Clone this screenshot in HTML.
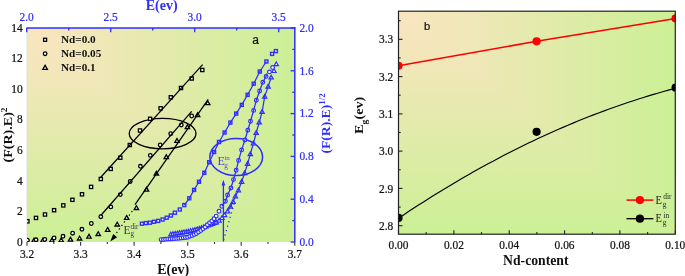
<!DOCTYPE html>
<html><head><meta charset="utf-8"><style>html,body{margin:0;padding:0;background:#fff;width:685px;height:276px;overflow:hidden}</style></head><body>
<svg width="685" height="276" viewBox="0 0 685 276" style="display:block;will-change:transform">
<defs>
<linearGradient id="gLh" gradientUnits="userSpaceOnUse" x1="27" y1="0" x2="294.8" y2="0"><stop offset="0" stop-color="#f9e5c0"/><stop offset="0.25" stop-color="#f0e7b8"/><stop offset="1" stop-color="#cbf095"/></linearGradient>
<linearGradient id="gLv" gradientUnits="userSpaceOnUse" x1="0" y1="28" x2="0" y2="242"><stop offset="0" stop-color="#f9e5c0"/><stop offset="0.25" stop-color="#f0e7b8"/><stop offset="1" stop-color="#cbf095"/></linearGradient>
<linearGradient id="gRh" gradientUnits="userSpaceOnUse" x1="398.5" y1="0" x2="675.3" y2="0"><stop offset="0" stop-color="#f9e5c0"/><stop offset="0.25" stop-color="#f0e7b8"/><stop offset="1" stop-color="#cbf095"/></linearGradient>
<linearGradient id="gRv" gradientUnits="userSpaceOnUse" x1="0" y1="11.2" x2="0" y2="234.2"><stop offset="0" stop-color="#f9e5c0"/><stop offset="0.25" stop-color="#f0e7b8"/><stop offset="1" stop-color="#cbf095"/></linearGradient>
<clipPath id="cL"><rect x="27" y="28" width="267.8" height="214"/></clipPath>
<clipPath id="cR"><rect x="398.5" y="11.2" width="276.8" height="223.0"/></clipPath>
</defs>
<rect x="0" y="0" width="685" height="276" fill="#fff"/>
<rect x="27" y="28" width="267.8" height="214" fill="url(#gLv)"/><path d="M27 28L294.8 28L294.8 242Z" fill="url(#gLh)"/>
<line x1="26.8" y1="28" x2="26.8" y2="242" stroke="#d0d0d0" stroke-width="0.5"/>
<g clip-path="url(#cL)">
<line x1="114" y1="236.5" x2="133" y2="210" stroke="#000" stroke-width="1.2" stroke-dasharray="1.3 3"/>
<path d="M110.3 241.5L113.2 233.9L117.1 237.2Z" fill="#000"/>
<ellipse cx="162.6" cy="133.6" rx="33.4" ry="15.2" fill="none" stroke="#000" stroke-width="1.3"/>
<rect x="25.80" y="219.70" width="3.2" height="3.2" fill="#fff" stroke="#000" stroke-width="1.3"/>
<rect x="34.40" y="216.30" width="3.2" height="3.2" fill="#fff" stroke="#000" stroke-width="1.3"/>
<rect x="43.40" y="212.90" width="3.2" height="3.2" fill="#fff" stroke="#000" stroke-width="1.3"/>
<rect x="52.50" y="208.60" width="3.2" height="3.2" fill="#fff" stroke="#000" stroke-width="1.3"/>
<rect x="61.70" y="203.80" width="3.2" height="3.2" fill="#fff" stroke="#000" stroke-width="1.3"/>
<rect x="70.80" y="198.20" width="3.2" height="3.2" fill="#fff" stroke="#000" stroke-width="1.3"/>
<rect x="80.40" y="192.70" width="3.2" height="3.2" fill="#fff" stroke="#000" stroke-width="1.3"/>
<rect x="89.50" y="185.30" width="3.2" height="3.2" fill="#fff" stroke="#000" stroke-width="1.3"/>
<rect x="99.20" y="177.40" width="3.2" height="3.2" fill="#fff" stroke="#000" stroke-width="1.3"/>
<rect x="109.10" y="167.30" width="3.2" height="3.2" fill="#fff" stroke="#000" stroke-width="1.3"/>
<rect x="118.70" y="156.10" width="3.2" height="3.2" fill="#fff" stroke="#000" stroke-width="1.3"/>
<rect x="128.20" y="143.40" width="3.2" height="3.2" fill="#fff" stroke="#000" stroke-width="1.3"/>
<rect x="138.40" y="128.90" width="3.2" height="3.2" fill="#fff" stroke="#000" stroke-width="1.3"/>
<rect x="148.50" y="117.20" width="3.2" height="3.2" fill="#fff" stroke="#000" stroke-width="1.3"/>
<rect x="159.00" y="106.70" width="3.2" height="3.2" fill="#fff" stroke="#000" stroke-width="1.3"/>
<rect x="169.20" y="95.70" width="3.2" height="3.2" fill="#fff" stroke="#000" stroke-width="1.3"/>
<rect x="179.40" y="86.40" width="3.2" height="3.2" fill="#fff" stroke="#000" stroke-width="1.3"/>
<rect x="190.10" y="76.90" width="3.2" height="3.2" fill="#fff" stroke="#000" stroke-width="1.3"/>
<rect x="200.70" y="68.40" width="3.2" height="3.2" fill="#fff" stroke="#000" stroke-width="1.3"/>
<path d="M25.20 238.51L27.40 242.32L23.00 242.32Z" fill="#fff" stroke="#000" stroke-width="1.3"/>
<path d="M34.00 238.31L36.20 242.12L31.80 242.12Z" fill="#fff" stroke="#000" stroke-width="1.3"/>
<path d="M42.90 238.31L45.10 242.12L40.70 242.12Z" fill="#fff" stroke="#000" stroke-width="1.3"/>
<path d="M51.90 238.21L54.10 242.02L49.70 242.02Z" fill="#fff" stroke="#000" stroke-width="1.3"/>
<path d="M61.20 238.01L63.40 241.82L59.00 241.82Z" fill="#fff" stroke="#000" stroke-width="1.3"/>
<path d="M70.50 237.31L72.70 241.12L68.30 241.12Z" fill="#fff" stroke="#000" stroke-width="1.3"/>
<path d="M79.60 236.21L81.80 240.02L77.40 240.02Z" fill="#fff" stroke="#000" stroke-width="1.3"/>
<path d="M89.00 234.41L91.20 238.22L86.80 238.22Z" fill="#fff" stroke="#000" stroke-width="1.3"/>
<path d="M98.20 231.71L100.40 235.52L96.00 235.52Z" fill="#fff" stroke="#000" stroke-width="1.3"/>
<path d="M107.70 227.51L109.90 231.32L105.50 231.32Z" fill="#fff" stroke="#000" stroke-width="1.3"/>
<path d="M117.20 222.21L119.40 226.02L115.00 226.02Z" fill="#fff" stroke="#000" stroke-width="1.3"/>
<path d="M126.70 215.51L128.90 219.32L124.50 219.32Z" fill="#fff" stroke="#000" stroke-width="1.3"/>
<path d="M136.40 205.71L138.60 209.52L134.20 209.52Z" fill="#fff" stroke="#000" stroke-width="1.3"/>
<path d="M146.50 187.41L148.70 191.22L144.30 191.22Z" fill="#fff" stroke="#000" stroke-width="1.3"/>
<path d="M156.40 171.41L158.60 175.22L154.20 175.22Z" fill="#fff" stroke="#000" stroke-width="1.3"/>
<path d="M166.30 154.81L168.50 158.62L164.10 158.62Z" fill="#fff" stroke="#000" stroke-width="1.3"/>
<path d="M177.00 138.61L179.20 142.42L174.80 142.42Z" fill="#fff" stroke="#000" stroke-width="1.3"/>
<path d="M187.40 124.91L189.60 128.72L185.20 128.72Z" fill="#fff" stroke="#000" stroke-width="1.3"/>
<path d="M197.60 112.91L199.80 116.72L195.40 116.72Z" fill="#fff" stroke="#000" stroke-width="1.3"/>
<path d="M207.70 100.91L209.90 104.72L205.50 104.72Z" fill="#fff" stroke="#000" stroke-width="1.3"/>
<circle cx="27.40" cy="240.20" r="1.8" fill="#fff" stroke="#000" stroke-width="1.3"/>
<circle cx="36.00" cy="239.80" r="1.8" fill="#fff" stroke="#000" stroke-width="1.3"/>
<circle cx="44.80" cy="239.50" r="1.8" fill="#fff" stroke="#000" stroke-width="1.3"/>
<circle cx="54.10" cy="238.00" r="1.8" fill="#fff" stroke="#000" stroke-width="1.3"/>
<circle cx="63.00" cy="236.30" r="1.8" fill="#fff" stroke="#000" stroke-width="1.3"/>
<circle cx="72.60" cy="233.20" r="1.8" fill="#fff" stroke="#000" stroke-width="1.3"/>
<circle cx="81.90" cy="229.30" r="1.8" fill="#fff" stroke="#000" stroke-width="1.3"/>
<circle cx="91.30" cy="223.50" r="1.8" fill="#fff" stroke="#000" stroke-width="1.3"/>
<circle cx="100.80" cy="216.70" r="1.8" fill="#fff" stroke="#000" stroke-width="1.3"/>
<circle cx="110.80" cy="206.90" r="1.8" fill="#fff" stroke="#000" stroke-width="1.3"/>
<circle cx="120.30" cy="194.60" r="1.8" fill="#fff" stroke="#000" stroke-width="1.3"/>
<circle cx="130.20" cy="181.50" r="1.8" fill="#fff" stroke="#000" stroke-width="1.3"/>
<circle cx="140.40" cy="166.30" r="1.8" fill="#fff" stroke="#000" stroke-width="1.3"/>
<circle cx="150.30" cy="155.40" r="1.8" fill="#fff" stroke="#000" stroke-width="1.3"/>
<circle cx="160.20" cy="145.00" r="1.8" fill="#fff" stroke="#000" stroke-width="1.3"/>
<circle cx="170.70" cy="133.70" r="1.8" fill="#fff" stroke="#000" stroke-width="1.3"/>
<circle cx="181.30" cy="125.00" r="1.8" fill="#fff" stroke="#000" stroke-width="1.3"/>
<circle cx="191.70" cy="116.00" r="1.8" fill="#fff" stroke="#000" stroke-width="1.3"/>
<g stroke="#000" stroke-width="1.25" fill="none">
<line x1="100.1" y1="178" x2="202.6" y2="64.6"/>
<line x1="100.8" y1="215.5" x2="191.7" y2="111.3"/>
<line x1="135.0" y1="204.6" x2="208.2" y2="99.4"/>
</g>
<line x1="223.6" y1="240" x2="234.6" y2="202" stroke="#2e2eff" stroke-width="1.3" stroke-dasharray="1.2 3.4"/>
<line x1="223.4" y1="184" x2="223.4" y2="241.5" stroke="#2e2eff" stroke-width="1.3"/>
<path d="M223.4 179.8L221.5 185.6L225.3 185.6Z" fill="#2e2eff"/>
<ellipse cx="236.2" cy="157" rx="26.4" ry="18.4" fill="none" stroke="#2e2eff" stroke-width="1.5"/>
<rect x="140.40" y="222.20" width="3.0" height="3.0" fill="#fff" stroke="#2e2eff" stroke-width="1.4"/>
<rect x="144.40" y="221.60" width="3.0" height="3.0" fill="#fff" stroke="#2e2eff" stroke-width="1.4"/>
<rect x="148.40" y="221.20" width="3.0" height="3.0" fill="#fff" stroke="#2e2eff" stroke-width="1.4"/>
<rect x="152.50" y="220.30" width="3.0" height="3.0" fill="#fff" stroke="#2e2eff" stroke-width="1.4"/>
<rect x="156.70" y="219.40" width="3.0" height="3.0" fill="#fff" stroke="#2e2eff" stroke-width="1.4"/>
<rect x="161.10" y="218.00" width="3.0" height="3.0" fill="#fff" stroke="#2e2eff" stroke-width="1.4"/>
<rect x="165.20" y="216.20" width="3.0" height="3.0" fill="#fff" stroke="#2e2eff" stroke-width="1.4"/>
<rect x="169.40" y="214.00" width="3.0" height="3.0" fill="#fff" stroke="#2e2eff" stroke-width="1.4"/>
<rect x="173.40" y="211.20" width="3.0" height="3.0" fill="#fff" stroke="#2e2eff" stroke-width="1.4"/>
<rect x="178.30" y="208.00" width="3.0" height="3.0" fill="#fff" stroke="#2e2eff" stroke-width="1.4"/>
<rect x="182.80" y="203.60" width="3.0" height="3.0" fill="#fff" stroke="#2e2eff" stroke-width="1.4"/>
<rect x="187.80" y="196.80" width="3.0" height="3.0" fill="#fff" stroke="#2e2eff" stroke-width="1.4"/>
<rect x="192.60" y="188.40" width="3.0" height="3.0" fill="#fff" stroke="#2e2eff" stroke-width="1.4"/>
<rect x="197.50" y="180.30" width="3.0" height="3.0" fill="#fff" stroke="#2e2eff" stroke-width="1.4"/>
<rect x="202.80" y="171.30" width="3.0" height="3.0" fill="#fff" stroke="#2e2eff" stroke-width="1.4"/>
<rect x="207.70" y="160.70" width="3.0" height="3.0" fill="#fff" stroke="#2e2eff" stroke-width="1.4"/>
<rect x="212.60" y="150.50" width="3.0" height="3.0" fill="#fff" stroke="#2e2eff" stroke-width="1.4"/>
<rect x="217.50" y="140.50" width="3.0" height="3.0" fill="#fff" stroke="#2e2eff" stroke-width="1.4"/>
<rect x="223.10" y="131.00" width="3.0" height="3.0" fill="#fff" stroke="#2e2eff" stroke-width="1.4"/>
<rect x="228.90" y="121.10" width="3.0" height="3.0" fill="#fff" stroke="#2e2eff" stroke-width="1.4"/>
<rect x="234.70" y="112.10" width="3.0" height="3.0" fill="#fff" stroke="#2e2eff" stroke-width="1.4"/>
<rect x="240.30" y="103.40" width="3.0" height="3.0" fill="#fff" stroke="#2e2eff" stroke-width="1.4"/>
<rect x="246.10" y="93.30" width="3.0" height="3.0" fill="#fff" stroke="#2e2eff" stroke-width="1.4"/>
<rect x="252.20" y="82.20" width="3.0" height="3.0" fill="#fff" stroke="#2e2eff" stroke-width="1.4"/>
<rect x="258.30" y="70.00" width="3.0" height="3.0" fill="#fff" stroke="#2e2eff" stroke-width="1.4"/>
<rect x="264.90" y="60.00" width="3.0" height="3.0" fill="#fff" stroke="#2e2eff" stroke-width="1.4"/>
<rect x="270.60" y="52.40" width="3.0" height="3.0" fill="#fff" stroke="#2e2eff" stroke-width="1.4"/>
<rect x="274.40" y="49.60" width="3.0" height="3.0" fill="#fff" stroke="#2e2eff" stroke-width="1.4"/>
<path d="M170.80 232.17L172.95 235.89L168.65 235.89Z" fill="#fff" stroke="#2e2eff" stroke-width="1.2"/>
<path d="M173.00 231.81L175.15 235.53L170.85 235.53Z" fill="#fff" stroke="#2e2eff" stroke-width="1.2"/>
<path d="M175.20 231.45L177.35 235.17L173.05 235.17Z" fill="#fff" stroke="#2e2eff" stroke-width="1.2"/>
<path d="M177.40 231.09L179.55 234.82L175.25 234.82Z" fill="#fff" stroke="#2e2eff" stroke-width="1.2"/>
<path d="M179.60 230.73L181.75 234.46L177.45 234.46Z" fill="#fff" stroke="#2e2eff" stroke-width="1.2"/>
<path d="M181.80 230.38L183.95 234.10L179.65 234.10Z" fill="#fff" stroke="#2e2eff" stroke-width="1.2"/>
<path d="M184.00 230.02L186.15 233.74L181.85 233.74Z" fill="#fff" stroke="#2e2eff" stroke-width="1.2"/>
<path d="M186.20 229.66L188.35 233.38L184.05 233.38Z" fill="#fff" stroke="#2e2eff" stroke-width="1.2"/>
<path d="M188.40 229.27L190.55 232.99L186.25 232.99Z" fill="#fff" stroke="#2e2eff" stroke-width="1.2"/>
<path d="M190.60 228.72L192.75 232.44L188.45 232.44Z" fill="#fff" stroke="#2e2eff" stroke-width="1.2"/>
<path d="M192.80 228.17L194.95 231.89L190.65 231.89Z" fill="#fff" stroke="#2e2eff" stroke-width="1.2"/>
<path d="M195.00 227.62L197.15 231.34L192.85 231.34Z" fill="#fff" stroke="#2e2eff" stroke-width="1.2"/>
<path d="M197.20 227.07L199.35 230.79L195.05 230.79Z" fill="#fff" stroke="#2e2eff" stroke-width="1.2"/>
<path d="M199.40 226.52L201.55 230.24L197.25 230.24Z" fill="#fff" stroke="#2e2eff" stroke-width="1.2"/>
<path d="M201.60 225.76L203.75 229.48L199.45 229.48Z" fill="#fff" stroke="#2e2eff" stroke-width="1.2"/>
<path d="M203.80 224.92L205.95 228.65L201.65 228.65Z" fill="#fff" stroke="#2e2eff" stroke-width="1.2"/>
<path d="M206.00 224.09L208.15 227.81L203.85 227.81Z" fill="#fff" stroke="#2e2eff" stroke-width="1.2"/>
<path d="M208.20 223.25L210.35 226.97L206.05 226.97Z" fill="#fff" stroke="#2e2eff" stroke-width="1.2"/>
<path d="M210.40 222.41L212.55 226.13L208.25 226.13Z" fill="#fff" stroke="#2e2eff" stroke-width="1.2"/>
<path d="M212.60 221.56L214.75 225.28L210.45 225.28Z" fill="#fff" stroke="#2e2eff" stroke-width="1.2"/>
<path d="M214.80 220.71L216.95 224.43L212.65 224.43Z" fill="#fff" stroke="#2e2eff" stroke-width="1.2"/>
<path d="M216.20 220.17L218.35 223.89L214.05 223.89Z" fill="#fff" stroke="#2e2eff" stroke-width="1.2"/>
<path d="M219.10 218.47L221.25 222.19L216.95 222.19Z" fill="#fff" stroke="#2e2eff" stroke-width="1.2"/>
<path d="M222.00 215.77L224.15 219.49L219.85 219.49Z" fill="#fff" stroke="#2e2eff" stroke-width="1.2"/>
<path d="M224.60 212.87L226.75 216.59L222.45 216.59Z" fill="#fff" stroke="#2e2eff" stroke-width="1.2"/>
<path d="M227.60 209.07L229.75 212.79L225.45 212.79Z" fill="#fff" stroke="#2e2eff" stroke-width="1.2"/>
<path d="M230.40 204.47L232.55 208.19L228.25 208.19Z" fill="#fff" stroke="#2e2eff" stroke-width="1.2"/>
<path d="M233.10 199.57L235.25 203.29L230.95 203.29Z" fill="#fff" stroke="#2e2eff" stroke-width="1.2"/>
<path d="M235.40 194.07L237.55 197.79L233.25 197.79Z" fill="#fff" stroke="#2e2eff" stroke-width="1.2"/>
<path d="M238.40 188.07L240.55 191.79L236.25 191.79Z" fill="#fff" stroke="#2e2eff" stroke-width="1.2"/>
<path d="M241.60 179.57L243.75 183.29L239.45 183.29Z" fill="#fff" stroke="#2e2eff" stroke-width="1.2"/>
<path d="M244.60 170.87L246.75 174.59L242.45 174.59Z" fill="#fff" stroke="#2e2eff" stroke-width="1.2"/>
<path d="M247.60 161.57L249.75 165.29L245.45 165.29Z" fill="#fff" stroke="#2e2eff" stroke-width="1.2"/>
<path d="M250.30 151.87L252.45 155.59L248.15 155.59Z" fill="#fff" stroke="#2e2eff" stroke-width="1.2"/>
<path d="M253.40 141.27L255.55 144.99L251.25 144.99Z" fill="#fff" stroke="#2e2eff" stroke-width="1.2"/>
<path d="M256.20 130.67L258.35 134.39L254.05 134.39Z" fill="#fff" stroke="#2e2eff" stroke-width="1.2"/>
<path d="M259.20 120.07L261.35 123.79L257.05 123.79Z" fill="#fff" stroke="#2e2eff" stroke-width="1.2"/>
<path d="M262.10 109.57L264.25 113.29L259.95 113.29Z" fill="#fff" stroke="#2e2eff" stroke-width="1.2"/>
<path d="M264.70 94.37L266.85 98.09L262.55 98.09Z" fill="#fff" stroke="#2e2eff" stroke-width="1.2"/>
<path d="M268.10 84.37L270.25 88.09L265.95 88.09Z" fill="#fff" stroke="#2e2eff" stroke-width="1.2"/>
<path d="M271.20 75.27L273.35 78.99L269.05 78.99Z" fill="#fff" stroke="#2e2eff" stroke-width="1.2"/>
<path d="M274.00 68.77L276.15 72.49L271.85 72.49Z" fill="#fff" stroke="#2e2eff" stroke-width="1.2"/>
<path d="M276.30 61.97L278.45 65.69L274.15 65.69Z" fill="#fff" stroke="#2e2eff" stroke-width="1.2"/>
<circle cx="161.20" cy="239.60" r="1.85" fill="#fff" stroke="#2e2eff" stroke-width="1.2"/>
<circle cx="163.40" cy="239.44" r="1.85" fill="#fff" stroke="#2e2eff" stroke-width="1.2"/>
<circle cx="165.60" cy="239.28" r="1.85" fill="#fff" stroke="#2e2eff" stroke-width="1.2"/>
<circle cx="167.80" cy="239.12" r="1.85" fill="#fff" stroke="#2e2eff" stroke-width="1.2"/>
<circle cx="170.00" cy="238.96" r="1.85" fill="#fff" stroke="#2e2eff" stroke-width="1.2"/>
<circle cx="172.20" cy="238.80" r="1.85" fill="#fff" stroke="#2e2eff" stroke-width="1.2"/>
<circle cx="174.40" cy="238.64" r="1.85" fill="#fff" stroke="#2e2eff" stroke-width="1.2"/>
<circle cx="176.60" cy="238.42" r="1.85" fill="#fff" stroke="#2e2eff" stroke-width="1.2"/>
<circle cx="178.80" cy="238.18" r="1.85" fill="#fff" stroke="#2e2eff" stroke-width="1.2"/>
<circle cx="181.00" cy="237.93" r="1.85" fill="#fff" stroke="#2e2eff" stroke-width="1.2"/>
<circle cx="183.20" cy="237.69" r="1.85" fill="#fff" stroke="#2e2eff" stroke-width="1.2"/>
<circle cx="185.40" cy="237.44" r="1.85" fill="#fff" stroke="#2e2eff" stroke-width="1.2"/>
<circle cx="187.60" cy="237.20" r="1.85" fill="#fff" stroke="#2e2eff" stroke-width="1.2"/>
<circle cx="189.80" cy="236.34" r="1.85" fill="#fff" stroke="#2e2eff" stroke-width="1.2"/>
<circle cx="192.00" cy="235.48" r="1.85" fill="#fff" stroke="#2e2eff" stroke-width="1.2"/>
<circle cx="194.20" cy="234.61" r="1.85" fill="#fff" stroke="#2e2eff" stroke-width="1.2"/>
<circle cx="196.40" cy="233.43" r="1.85" fill="#fff" stroke="#2e2eff" stroke-width="1.2"/>
<circle cx="198.60" cy="232.07" r="1.85" fill="#fff" stroke="#2e2eff" stroke-width="1.2"/>
<circle cx="200.80" cy="230.56" r="1.85" fill="#fff" stroke="#2e2eff" stroke-width="1.2"/>
<circle cx="203.00" cy="228.80" r="1.85" fill="#fff" stroke="#2e2eff" stroke-width="1.2"/>
<circle cx="205.20" cy="226.99" r="1.85" fill="#fff" stroke="#2e2eff" stroke-width="1.2"/>
<circle cx="207.40" cy="224.73" r="1.85" fill="#fff" stroke="#2e2eff" stroke-width="1.2"/>
<circle cx="209.60" cy="222.86" r="1.85" fill="#fff" stroke="#2e2eff" stroke-width="1.2"/>
<circle cx="211.80" cy="221.08" r="1.85" fill="#fff" stroke="#2e2eff" stroke-width="1.2"/>
<circle cx="214.00" cy="218.80" r="1.85" fill="#fff" stroke="#2e2eff" stroke-width="1.2"/>
<circle cx="216.20" cy="216.09" r="1.85" fill="#fff" stroke="#2e2eff" stroke-width="1.2"/>
<circle cx="219.00" cy="211.30" r="1.85" fill="#fff" stroke="#2e2eff" stroke-width="1.2"/>
<circle cx="221.80" cy="206.30" r="1.85" fill="#fff" stroke="#2e2eff" stroke-width="1.2"/>
<circle cx="225.40" cy="201.30" r="1.85" fill="#fff" stroke="#2e2eff" stroke-width="1.2"/>
<circle cx="227.60" cy="195.00" r="1.85" fill="#fff" stroke="#2e2eff" stroke-width="1.2"/>
<circle cx="230.90" cy="188.00" r="1.85" fill="#fff" stroke="#2e2eff" stroke-width="1.2"/>
<circle cx="233.50" cy="179.60" r="1.85" fill="#fff" stroke="#2e2eff" stroke-width="1.2"/>
<circle cx="236.20" cy="170.20" r="1.85" fill="#fff" stroke="#2e2eff" stroke-width="1.2"/>
<circle cx="238.60" cy="160.40" r="1.85" fill="#fff" stroke="#2e2eff" stroke-width="1.2"/>
<circle cx="241.60" cy="149.90" r="1.85" fill="#fff" stroke="#2e2eff" stroke-width="1.2"/>
<circle cx="244.90" cy="140.00" r="1.85" fill="#fff" stroke="#2e2eff" stroke-width="1.2"/>
<circle cx="247.80" cy="130.30" r="1.85" fill="#fff" stroke="#2e2eff" stroke-width="1.2"/>
<circle cx="250.50" cy="121.20" r="1.85" fill="#fff" stroke="#2e2eff" stroke-width="1.2"/>
<circle cx="253.60" cy="110.40" r="1.85" fill="#fff" stroke="#2e2eff" stroke-width="1.2"/>
<circle cx="256.30" cy="100.30" r="1.85" fill="#fff" stroke="#2e2eff" stroke-width="1.2"/>
<circle cx="259.60" cy="91.00" r="1.85" fill="#fff" stroke="#2e2eff" stroke-width="1.2"/>
<circle cx="262.80" cy="82.20" r="1.85" fill="#fff" stroke="#2e2eff" stroke-width="1.2"/>
<circle cx="266.10" cy="76.40" r="1.85" fill="#fff" stroke="#2e2eff" stroke-width="1.2"/>
<circle cx="269.40" cy="71.90" r="1.85" fill="#fff" stroke="#2e2eff" stroke-width="1.2"/>
<circle cx="272.60" cy="67.50" r="1.85" fill="#fff" stroke="#2e2eff" stroke-width="1.2"/>
<polyline points="184.3,205.1 189.3,198.3 194.1,189.9 199.0,181.8 204.3,172.8 209.2,162.2 214.1,152.0 219.0,142.0 224.6,132.5 230.4,122.6 236.2,113.6 241.8,104.9 247.6,94.8 253.7,83.7 259.8,71.5 266.4,61.5" fill="none" stroke="#2e2eff" stroke-width="1.25" stroke-linejoin="round"/>
<polyline points="221.8,206.3 225.4,201.3 227.6,195.0 230.9,188.0 233.5,179.6 236.2,170.2 238.6,160.4 241.6,149.9 244.9,140.0 247.8,130.3 250.5,121.2 253.6,110.4 256.3,100.3 259.6,91.0 262.8,82.2 266.1,76.4 266.7,73.5" fill="none" stroke="#2e2eff" stroke-width="1.25" stroke-linejoin="round"/>
<polyline points="227.6,211.3 230.4,206.7 233.1,201.8 235.4,196.3 238.4,190.3 241.6,181.8 244.6,173.1 247.6,163.8 250.3,154.1 253.4,143.5 256.2,132.9 259.2,122.3 262.1,111.8 264.7,96.6 268.1,86.6 271.2,77.5" fill="none" stroke="#2e2eff" stroke-width="1.25" stroke-linejoin="round"/>
</g>
<rect x="43.60" y="38.30" width="3.0" height="3.0" fill="#fff" stroke="#000" stroke-width="1.3"/>
<circle cx="45.10" cy="53.70" r="1.8" fill="#fff" stroke="#000" stroke-width="1.3"/>
<path d="M45.10 65.41L47.40 69.39L42.80 69.39Z" fill="#fff" stroke="#000" stroke-width="1.3"/>
<text transform="translate(61.00,43.40) scale(1,1.0)" style="font-family:&quot;Liberation Serif&quot;;font-weight:bold;font-size:11.2px" fill="#111">Nd=0.0</text>
<text transform="translate(61.00,57.40) scale(1,1.0)" style="font-family:&quot;Liberation Serif&quot;;font-weight:bold;font-size:11.2px" fill="#111">Nd=0.05</text>
<text transform="translate(61.00,71.20) scale(1,1.0)" style="font-family:&quot;Liberation Serif&quot;;font-weight:bold;font-size:11.2px" fill="#111">Nd=0.1</text>
<text transform="translate(252.30,44.00) scale(1,1.0)" style="font-family:&quot;Liberation Sans&quot;;font-size:12px" fill="#111" stroke="#111" stroke-width="0.22">a</text>
<text transform="translate(123.60,234.00) scale(1,1.0)" style="font-family:&quot;Liberation Serif&quot;;font-size:11.5px" fill="#3a3a3a">E</text>
<text transform="translate(130.40,228.90) scale(1,1.0)" style="font-family:&quot;Liberation Serif&quot;;font-size:7.2px" fill="#3a3a3a">dir</text>
<text transform="translate(130.50,236.40) scale(1,1.0)" style="font-family:&quot;Liberation Serif&quot;;font-size:7.2px" fill="#3a3a3a">g</text>
<text transform="translate(217.60,165.20) scale(1,1.0)" style="font-family:&quot;Liberation Serif&quot;;font-size:12px" fill="#4646e6">E</text>
<text transform="translate(224.40,159.60) scale(1,1.0)" style="font-family:&quot;Liberation Serif&quot;;font-size:7.0px" fill="#5050e0">in</text>
<text transform="translate(224.30,168.20) scale(1,1.0)" style="font-family:&quot;Liberation Serif&quot;;font-size:7.4px" fill="#5050e0">g</text>
<line x1="26.5" y1="28" x2="295.5" y2="28" stroke="#2e2eff" stroke-width="1.4"/>
<line x1="294.8" y1="27.3" x2="294.8" y2="242.2" stroke="#2e2eff" stroke-width="1.5"/>
<g stroke="#2e2eff" stroke-width="1.3"><line x1="26.7" y1="28" x2="26.7" y2="32.2"/><line x1="68.7" y1="28" x2="68.7" y2="30.5"/><line x1="110.7" y1="28" x2="110.7" y2="32.2"/><line x1="152.7" y1="28" x2="152.7" y2="30.5"/><line x1="194.7" y1="28" x2="194.7" y2="32.2"/><line x1="236.7" y1="28" x2="236.7" y2="30.5"/><line x1="278.7" y1="28" x2="278.7" y2="32.2"/><line x1="290.6" y1="242.0" x2="294.8" y2="242.0"/><line x1="292.3" y1="220.6" x2="294.8" y2="220.6"/><line x1="290.6" y1="199.2" x2="294.8" y2="199.2"/><line x1="292.3" y1="177.8" x2="294.8" y2="177.8"/><line x1="290.6" y1="156.4" x2="294.8" y2="156.4"/><line x1="292.3" y1="135.0" x2="294.8" y2="135.0"/><line x1="290.6" y1="113.6" x2="294.8" y2="113.6"/><line x1="292.3" y1="92.2" x2="294.8" y2="92.2"/><line x1="290.6" y1="70.8" x2="294.8" y2="70.8"/><line x1="292.3" y1="49.4" x2="294.8" y2="49.4"/><line x1="290.6" y1="28.0" x2="294.8" y2="28.0"/></g>
<g stroke="#333" stroke-width="1.1"><line x1="27.0" y1="242" x2="27.0" y2="245.8"/><line x1="53.8" y1="242" x2="53.8" y2="244.0"/><line x1="80.6" y1="242" x2="80.6" y2="245.8"/><line x1="107.3" y1="242" x2="107.3" y2="244.0"/><line x1="134.1" y1="242" x2="134.1" y2="245.8"/><line x1="160.9" y1="242" x2="160.9" y2="244.0"/><line x1="187.7" y1="242" x2="187.7" y2="245.8"/><line x1="214.5" y1="242" x2="214.5" y2="244.0"/><line x1="241.2" y1="242" x2="241.2" y2="245.8"/><line x1="268.0" y1="242" x2="268.0" y2="244.0"/><line x1="294.8" y1="242" x2="294.8" y2="245.8"/></g>
<text transform="translate(22.60,245.70) scale(1,1.1)" text-anchor="end" style="font-family:&quot;Liberation Serif&quot;;font-size:11.4px" fill="#111" stroke="#111" stroke-width="0.22">0</text>
<text transform="translate(22.60,215.13) scale(1,1.1)" text-anchor="end" style="font-family:&quot;Liberation Serif&quot;;font-size:11.4px" fill="#111" stroke="#111" stroke-width="0.22">2</text>
<text transform="translate(22.60,184.56) scale(1,1.1)" text-anchor="end" style="font-family:&quot;Liberation Serif&quot;;font-size:11.4px" fill="#111" stroke="#111" stroke-width="0.22">4</text>
<text transform="translate(22.60,153.99) scale(1,1.1)" text-anchor="end" style="font-family:&quot;Liberation Serif&quot;;font-size:11.4px" fill="#111" stroke="#111" stroke-width="0.22">6</text>
<text transform="translate(22.60,123.41) scale(1,1.1)" text-anchor="end" style="font-family:&quot;Liberation Serif&quot;;font-size:11.4px" fill="#111" stroke="#111" stroke-width="0.22">8</text>
<text transform="translate(22.60,92.84) scale(1,1.1)" text-anchor="end" style="font-family:&quot;Liberation Serif&quot;;font-size:11.4px" fill="#111" stroke="#111" stroke-width="0.22">10</text>
<text transform="translate(22.60,62.27) scale(1,1.1)" text-anchor="end" style="font-family:&quot;Liberation Serif&quot;;font-size:11.4px" fill="#111" stroke="#111" stroke-width="0.22">12</text>
<text transform="translate(22.60,31.70) scale(1,1.1)" text-anchor="end" style="font-family:&quot;Liberation Serif&quot;;font-size:11.4px" fill="#111" stroke="#111" stroke-width="0.22">14</text>
<text transform="translate(27.00,258.20) scale(1,1.1)" text-anchor="middle" style="font-family:&quot;Liberation Serif&quot;;font-size:11.4px" fill="#111" stroke="#111" stroke-width="0.22">3.2</text>
<text transform="translate(80.56,258.20) scale(1,1.1)" text-anchor="middle" style="font-family:&quot;Liberation Serif&quot;;font-size:11.4px" fill="#111" stroke="#111" stroke-width="0.22">3.3</text>
<text transform="translate(134.12,258.20) scale(1,1.1)" text-anchor="middle" style="font-family:&quot;Liberation Serif&quot;;font-size:11.4px" fill="#111" stroke="#111" stroke-width="0.22">3.4</text>
<text transform="translate(187.68,258.20) scale(1,1.1)" text-anchor="middle" style="font-family:&quot;Liberation Serif&quot;;font-size:11.4px" fill="#111" stroke="#111" stroke-width="0.22">3.5</text>
<text transform="translate(241.24,258.20) scale(1,1.1)" text-anchor="middle" style="font-family:&quot;Liberation Serif&quot;;font-size:11.4px" fill="#111" stroke="#111" stroke-width="0.22">3.6</text>
<text transform="translate(294.80,258.20) scale(1,1.1)" text-anchor="middle" style="font-family:&quot;Liberation Serif&quot;;font-size:11.4px" fill="#111" stroke="#111" stroke-width="0.22">3.7</text>
<text transform="translate(26.60,21.00) scale(1,1.1)" text-anchor="middle" style="font-family:&quot;Liberation Serif&quot;;font-size:11.4px" fill="#2e2eff" stroke="#2e2eff" stroke-width="0.22">2.0</text>
<text transform="translate(110.60,21.00) scale(1,1.1)" text-anchor="middle" style="font-family:&quot;Liberation Serif&quot;;font-size:11.4px" fill="#2e2eff" stroke="#2e2eff" stroke-width="0.22">2.5</text>
<text transform="translate(194.60,21.00) scale(1,1.1)" text-anchor="middle" style="font-family:&quot;Liberation Serif&quot;;font-size:11.4px" fill="#2e2eff" stroke="#2e2eff" stroke-width="0.22">3.0</text>
<text transform="translate(278.60,21.00) scale(1,1.1)" text-anchor="middle" style="font-family:&quot;Liberation Serif&quot;;font-size:11.4px" fill="#2e2eff" stroke="#2e2eff" stroke-width="0.22">3.5</text>
<text transform="translate(299.40,245.80) scale(1,1.1)" style="font-family:&quot;Liberation Serif&quot;;font-size:11.4px" fill="#2e2eff" stroke="#2e2eff" stroke-width="0.22">0.0</text>
<text transform="translate(299.40,203.00) scale(1,1.1)" style="font-family:&quot;Liberation Serif&quot;;font-size:11.4px" fill="#2e2eff" stroke="#2e2eff" stroke-width="0.22">0.4</text>
<text transform="translate(299.40,160.20) scale(1,1.1)" style="font-family:&quot;Liberation Serif&quot;;font-size:11.4px" fill="#2e2eff" stroke="#2e2eff" stroke-width="0.22">0.8</text>
<text transform="translate(299.40,117.40) scale(1,1.1)" style="font-family:&quot;Liberation Serif&quot;;font-size:11.4px" fill="#2e2eff" stroke="#2e2eff" stroke-width="0.22">1.2</text>
<text transform="translate(299.40,74.60) scale(1,1.1)" style="font-family:&quot;Liberation Serif&quot;;font-size:11.4px" fill="#2e2eff" stroke="#2e2eff" stroke-width="0.22">1.6</text>
<text transform="translate(299.40,31.80) scale(1,1.1)" style="font-family:&quot;Liberation Serif&quot;;font-size:11.4px" fill="#2e2eff" stroke="#2e2eff" stroke-width="0.22">2.0</text>
<text transform="translate(173.20,273.90) scale(1,1.0)" text-anchor="middle" style="font-family:&quot;Liberation Serif&quot;;font-weight:bold;font-size:14px" fill="#111">E(ev)</text>
<text transform="translate(161.70,9.80) scale(1,1.0)" text-anchor="middle" style="font-family:&quot;Liberation Serif&quot;;font-weight:bold;font-size:14px" fill="#2e2eff">E(ev)</text>
<text transform="translate(11.60,135.00) scale(1,1.08) rotate(-90)" text-anchor="middle" style="font-family:&quot;Liberation Serif&quot;;font-weight:bold;font-size:13px" fill="#111">(F(R).E)<tspan dy="-5" style="font-size:8.5px">2</tspan></text>
<text transform="translate(329.60,123.50) scale(1,1.05) rotate(-90)" text-anchor="middle" style="font-family:&quot;Liberation Serif&quot;;font-weight:bold;font-size:13px" fill="#2e2eff">(F(R).E)<tspan dy="-5" style="font-size:8.5px">1/2</tspan></text>
<rect x="398.5" y="11.2" width="276.8" height="223.0" fill="url(#gRv)"/><path d="M398.5 11.2L675.3 11.2L675.3 234.2Z" fill="url(#gRh)"/>
<g clip-path="url(#cR)">
<polyline points="398.5,65.8 536.6,41.3 675.6,18.4" fill="none" stroke="#ff0000" stroke-width="1.5" stroke-linejoin="round"/>
<polyline points="398.5,218.3 403.5,214.9 408.5,211.6 413.5,208.3 418.5,205.1 423.5,201.9 428.5,198.7 433.5,195.6 438.5,192.5 443.5,189.4 448.5,186.4 453.5,183.4 458.5,180.5 463.5,177.6 468.5,174.7 473.5,171.8 478.5,169.0 483.5,166.3 488.5,163.6 493.5,160.9 498.5,158.2 503.5,155.6 508.5,153.0 513.5,150.5 518.5,148.0 523.5,145.5 528.5,143.1 533.5,140.7 538.5,138.3 543.5,136.0 548.5,133.7 553.5,131.5 558.5,129.3 563.5,127.1 568.5,125.0 573.5,122.9 578.5,120.8 583.5,118.8 588.5,116.8 593.5,114.9 598.5,113.0 603.5,111.1 608.5,109.3 613.5,107.5 618.5,105.7 623.5,104.0 628.5,102.3 633.5,100.7 638.5,99.0 643.5,97.5 648.5,95.9 653.5,94.4 658.5,93.0 663.5,91.5 668.5,90.1 673.5,88.8 678.5,87.5" fill="none" stroke="#000" stroke-width="1.15" stroke-linejoin="round"/>
<circle cx="398.5" cy="65.8" r="4.1" fill="#ff0000"/>
<circle cx="536.6" cy="41.3" r="4.1" fill="#ff0000"/>
<circle cx="675.6" cy="18.4" r="4.1" fill="#ff0000"/>
<circle cx="398.5" cy="217.9" r="4.1" fill="#000"/>
<circle cx="536.6" cy="131.8" r="4.1" fill="#000"/>
<circle cx="675.6" cy="87.7" r="4.1" fill="#000"/>
</g>
<rect x="398.5" y="11.2" width="276.8" height="223.0" fill="none" stroke="#222" stroke-width="1.2"/>
<g stroke="#222" stroke-width="1.1"><line x1="398.5" y1="234.2" x2="398.5" y2="230.2"/><line x1="426.2" y1="234.2" x2="426.2" y2="232.0"/><line x1="453.9" y1="234.2" x2="453.9" y2="230.2"/><line x1="481.5" y1="234.2" x2="481.5" y2="232.0"/><line x1="509.2" y1="234.2" x2="509.2" y2="230.2"/><line x1="536.9" y1="234.2" x2="536.9" y2="232.0"/><line x1="564.6" y1="234.2" x2="564.6" y2="230.2"/><line x1="592.3" y1="234.2" x2="592.3" y2="232.0"/><line x1="619.9" y1="234.2" x2="619.9" y2="230.2"/><line x1="647.6" y1="234.2" x2="647.6" y2="232.0"/><line x1="675.3" y1="234.2" x2="675.3" y2="230.2"/><line x1="398.5" y1="225.7" x2="402.5" y2="225.7"/><line x1="398.5" y1="207.1" x2="400.7" y2="207.1"/><line x1="398.5" y1="188.4" x2="402.5" y2="188.4"/><line x1="398.5" y1="169.8" x2="400.7" y2="169.8"/><line x1="398.5" y1="151.1" x2="402.5" y2="151.1"/><line x1="398.5" y1="132.5" x2="400.7" y2="132.5"/><line x1="398.5" y1="113.9" x2="402.5" y2="113.9"/><line x1="398.5" y1="95.2" x2="400.7" y2="95.2"/><line x1="398.5" y1="76.6" x2="402.5" y2="76.6"/><line x1="398.5" y1="57.9" x2="400.7" y2="57.9"/><line x1="398.5" y1="39.3" x2="402.5" y2="39.3"/><line x1="398.5" y1="20.7" x2="400.7" y2="20.7"/></g>
<text transform="translate(398.50,249.00) scale(1,1.1)" text-anchor="middle" style="font-family:&quot;Liberation Serif&quot;;font-size:11.4px" fill="#111" stroke="#111" stroke-width="0.22">0.00</text>
<text transform="translate(453.86,249.00) scale(1,1.1)" text-anchor="middle" style="font-family:&quot;Liberation Serif&quot;;font-size:11.4px" fill="#111" stroke="#111" stroke-width="0.22">0.02</text>
<text transform="translate(509.22,249.00) scale(1,1.1)" text-anchor="middle" style="font-family:&quot;Liberation Serif&quot;;font-size:11.4px" fill="#111" stroke="#111" stroke-width="0.22">0.04</text>
<text transform="translate(564.58,249.00) scale(1,1.1)" text-anchor="middle" style="font-family:&quot;Liberation Serif&quot;;font-size:11.4px" fill="#111" stroke="#111" stroke-width="0.22">0.06</text>
<text transform="translate(619.94,249.00) scale(1,1.1)" text-anchor="middle" style="font-family:&quot;Liberation Serif&quot;;font-size:11.4px" fill="#111" stroke="#111" stroke-width="0.22">0.08</text>
<text transform="translate(675.30,249.00) scale(1,1.1)" text-anchor="middle" style="font-family:&quot;Liberation Serif&quot;;font-size:11.4px" fill="#111" stroke="#111" stroke-width="0.22">0.10</text>
<text transform="translate(393.20,229.80) scale(1,1.1)" text-anchor="end" style="font-family:&quot;Liberation Serif&quot;;font-size:11.4px" fill="#111" stroke="#111" stroke-width="0.22">2.8</text>
<text transform="translate(393.20,192.52) scale(1,1.1)" text-anchor="end" style="font-family:&quot;Liberation Serif&quot;;font-size:11.4px" fill="#111" stroke="#111" stroke-width="0.22">2.9</text>
<text transform="translate(393.20,155.24) scale(1,1.1)" text-anchor="end" style="font-family:&quot;Liberation Serif&quot;;font-size:11.4px" fill="#111" stroke="#111" stroke-width="0.22">3.0</text>
<text transform="translate(393.20,117.96) scale(1,1.1)" text-anchor="end" style="font-family:&quot;Liberation Serif&quot;;font-size:11.4px" fill="#111" stroke="#111" stroke-width="0.22">3.1</text>
<text transform="translate(393.20,80.68) scale(1,1.1)" text-anchor="end" style="font-family:&quot;Liberation Serif&quot;;font-size:11.4px" fill="#111" stroke="#111" stroke-width="0.22">3.2</text>
<text transform="translate(393.20,43.40) scale(1,1.1)" text-anchor="end" style="font-family:&quot;Liberation Serif&quot;;font-size:11.4px" fill="#111" stroke="#111" stroke-width="0.22">3.3</text>
<text transform="translate(424.00,29.60) scale(1,1.0)" style="font-family:&quot;Liberation Sans&quot;;font-size:11.2px" fill="#111" stroke="#111" stroke-width="0.22">b</text>
<text transform="translate(535.80,264.60) scale(1,1.0)" text-anchor="middle" style="font-family:&quot;Liberation Serif&quot;;font-weight:bold;font-size:13.7px" fill="#111">Nd-content</text>
<text transform="translate(363.40,115.30) scale(1,1.08) rotate(-90)" text-anchor="middle" style="font-family:&quot;Liberation Serif&quot;;font-weight:bold;font-size:13.2px" fill="#111">E<tspan dy="3.2" style="font-size:9px">g</tspan><tspan dy="-3.2">(ev)</tspan></text>
<line x1="626.5" y1="200.1" x2="653.4" y2="200.1" stroke="#ff0000" stroke-width="1.5"/><circle cx="639.9" cy="200.1" r="4.1" fill="#ff0000"/>
<line x1="626.5" y1="218.7" x2="653.4" y2="218.7" stroke="#000" stroke-width="1.3"/><circle cx="639.9" cy="218.7" r="4.1" fill="#000"/>
<text transform="translate(655.60,203.80) scale(1,1.1)" style="font-family:&quot;Liberation Serif&quot;;font-size:10.5px" fill="#222">E</text>
<text transform="translate(663.20,198.80) scale(1,1.1)" style="font-family:&quot;Liberation Serif&quot;;font-size:7.4px" fill="#222">dir</text>
<text transform="translate(662.70,206.60) scale(1,1.1)" style="font-family:&quot;Liberation Serif&quot;;font-size:7.4px" fill="#222">g</text>
<text transform="translate(655.60,222.20) scale(1,1.1)" style="font-family:&quot;Liberation Serif&quot;;font-size:10.5px" fill="#222">E</text>
<text transform="translate(663.40,217.60) scale(1,1.1)" style="font-family:&quot;Liberation Serif&quot;;font-size:7.4px" fill="#222">in</text>
<text transform="translate(662.70,225.20) scale(1,1.1)" style="font-family:&quot;Liberation Serif&quot;;font-size:7.4px" fill="#222">g</text>
</svg>
</body></html>
